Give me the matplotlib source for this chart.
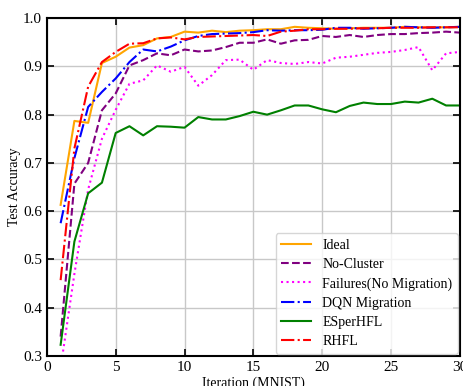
import numpy as np
import matplotlib
matplotlib.use('Agg')
import matplotlib.pyplot as plt

plt.rcParams['font.family'] = ['Liberation Serif', 'DejaVu Serif']

iters = list(range(1, 31))

ideal = [0.613, 0.787, 0.783, 0.907, 0.920, 0.939, 0.944, 0.958, 0.961, 0.972,
         0.970, 0.974, 0.971, 0.974, 0.975, 0.977, 0.977, 0.982, 0.980, 0.979,
         0.978, 0.979, 0.980, 0.980, 0.980, 0.982, 0.981, 0.981, 0.981, 0.982]
no_cluster = [0.340, 0.657, 0.700, 0.809, 0.844, 0.902, 0.913, 0.927, 0.923, 0.935,
              0.931, 0.933, 0.940, 0.949, 0.949, 0.956, 0.947, 0.954, 0.955, 0.963,
              0.961, 0.965, 0.961, 0.965, 0.967, 0.967, 0.969, 0.970, 0.972, 0.970]
failures = [0.275, 0.470, 0.645, 0.750, 0.810, 0.864, 0.871, 0.902, 0.889, 0.899,
            0.860, 0.882, 0.913, 0.914, 0.893, 0.913, 0.907, 0.905, 0.909, 0.906,
            0.918, 0.920, 0.924, 0.928, 0.930, 0.934, 0.940, 0.892, 0.927, 0.930]
dqn = [0.575, 0.710, 0.816, 0.847, 0.875, 0.909, 0.935, 0.931, 0.941, 0.954,
       0.963, 0.967, 0.968, 0.969, 0.971, 0.975, 0.974, 0.975, 0.975, 0.976,
       0.980, 0.980, 0.978, 0.979, 0.980, 0.982, 0.981, 0.980, 0.981, 0.982]
esper = [0.323, 0.537, 0.637, 0.659, 0.762, 0.776, 0.757, 0.776, 0.775, 0.773,
         0.795, 0.790, 0.790, 0.797, 0.806, 0.800, 0.809, 0.819, 0.819, 0.811,
         0.805, 0.818, 0.825, 0.822, 0.822, 0.827, 0.825, 0.833, 0.819, 0.819]
rhfl = [0.457, 0.730, 0.858, 0.909, 0.930, 0.947, 0.948, 0.958, 0.960, 0.956,
        0.961, 0.962, 0.963, 0.964, 0.965, 0.963, 0.972, 0.974, 0.977, 0.977,
        0.978, 0.978, 0.979, 0.979, 0.980, 0.980, 0.980, 0.981, 0.981, 0.981]

fig = plt.figure(figsize=(4.64, 3.86), dpi=100)
ax = fig.add_axes([0.101, 0.078, 0.890, 0.875])

ax.plot(iters, ideal, color='orange', ls='-', lw=1.5, label='Ideal')
ax.plot(iters, no_cluster, color='purple', ls='--', lw=1.5, label='No-Cluster')
ax.plot(iters, failures, color='magenta', ls=':', lw=1.5, label='Failures(No Migration)')
ax.plot(iters, dqn, color='blue', ls='-.', lw=1.5, label='DQN Migration')
ax.plot(iters, esper, color='green', ls='-', lw=1.5, label='ESperHFL')
ax.plot(iters, rhfl, color='red', ls='-.', lw=1.5, label='RHFL')

ax.set_xlim(0, 30)
ax.set_ylim(0.3, 1.0)
ax.set_xticks(np.arange(0, 31, 5))
ax.set_yticks(np.arange(0.3, 1.01, 0.1))
ax.grid(True, color='#c8c8c8', lw=1)
ax.tick_params(direction='in', top=True, right=True, length=5, width=1.2, labelsize=11)
for s in ax.spines.values():
    s.set_linewidth(1.5)
ax.set_xlabel('Iteration (MNIST)', fontsize=10, labelpad=2)
ax.set_ylabel('Test Accuracy', fontsize=10)
ax.yaxis.set_label_coords(-0.063, 0.5)
ax.legend(loc='lower right', fontsize=10, handlelength=2.15, borderaxespad=0.15,
          labelspacing=0.45, fancybox=True)

fig.savefig('out.png', dpi=100)
